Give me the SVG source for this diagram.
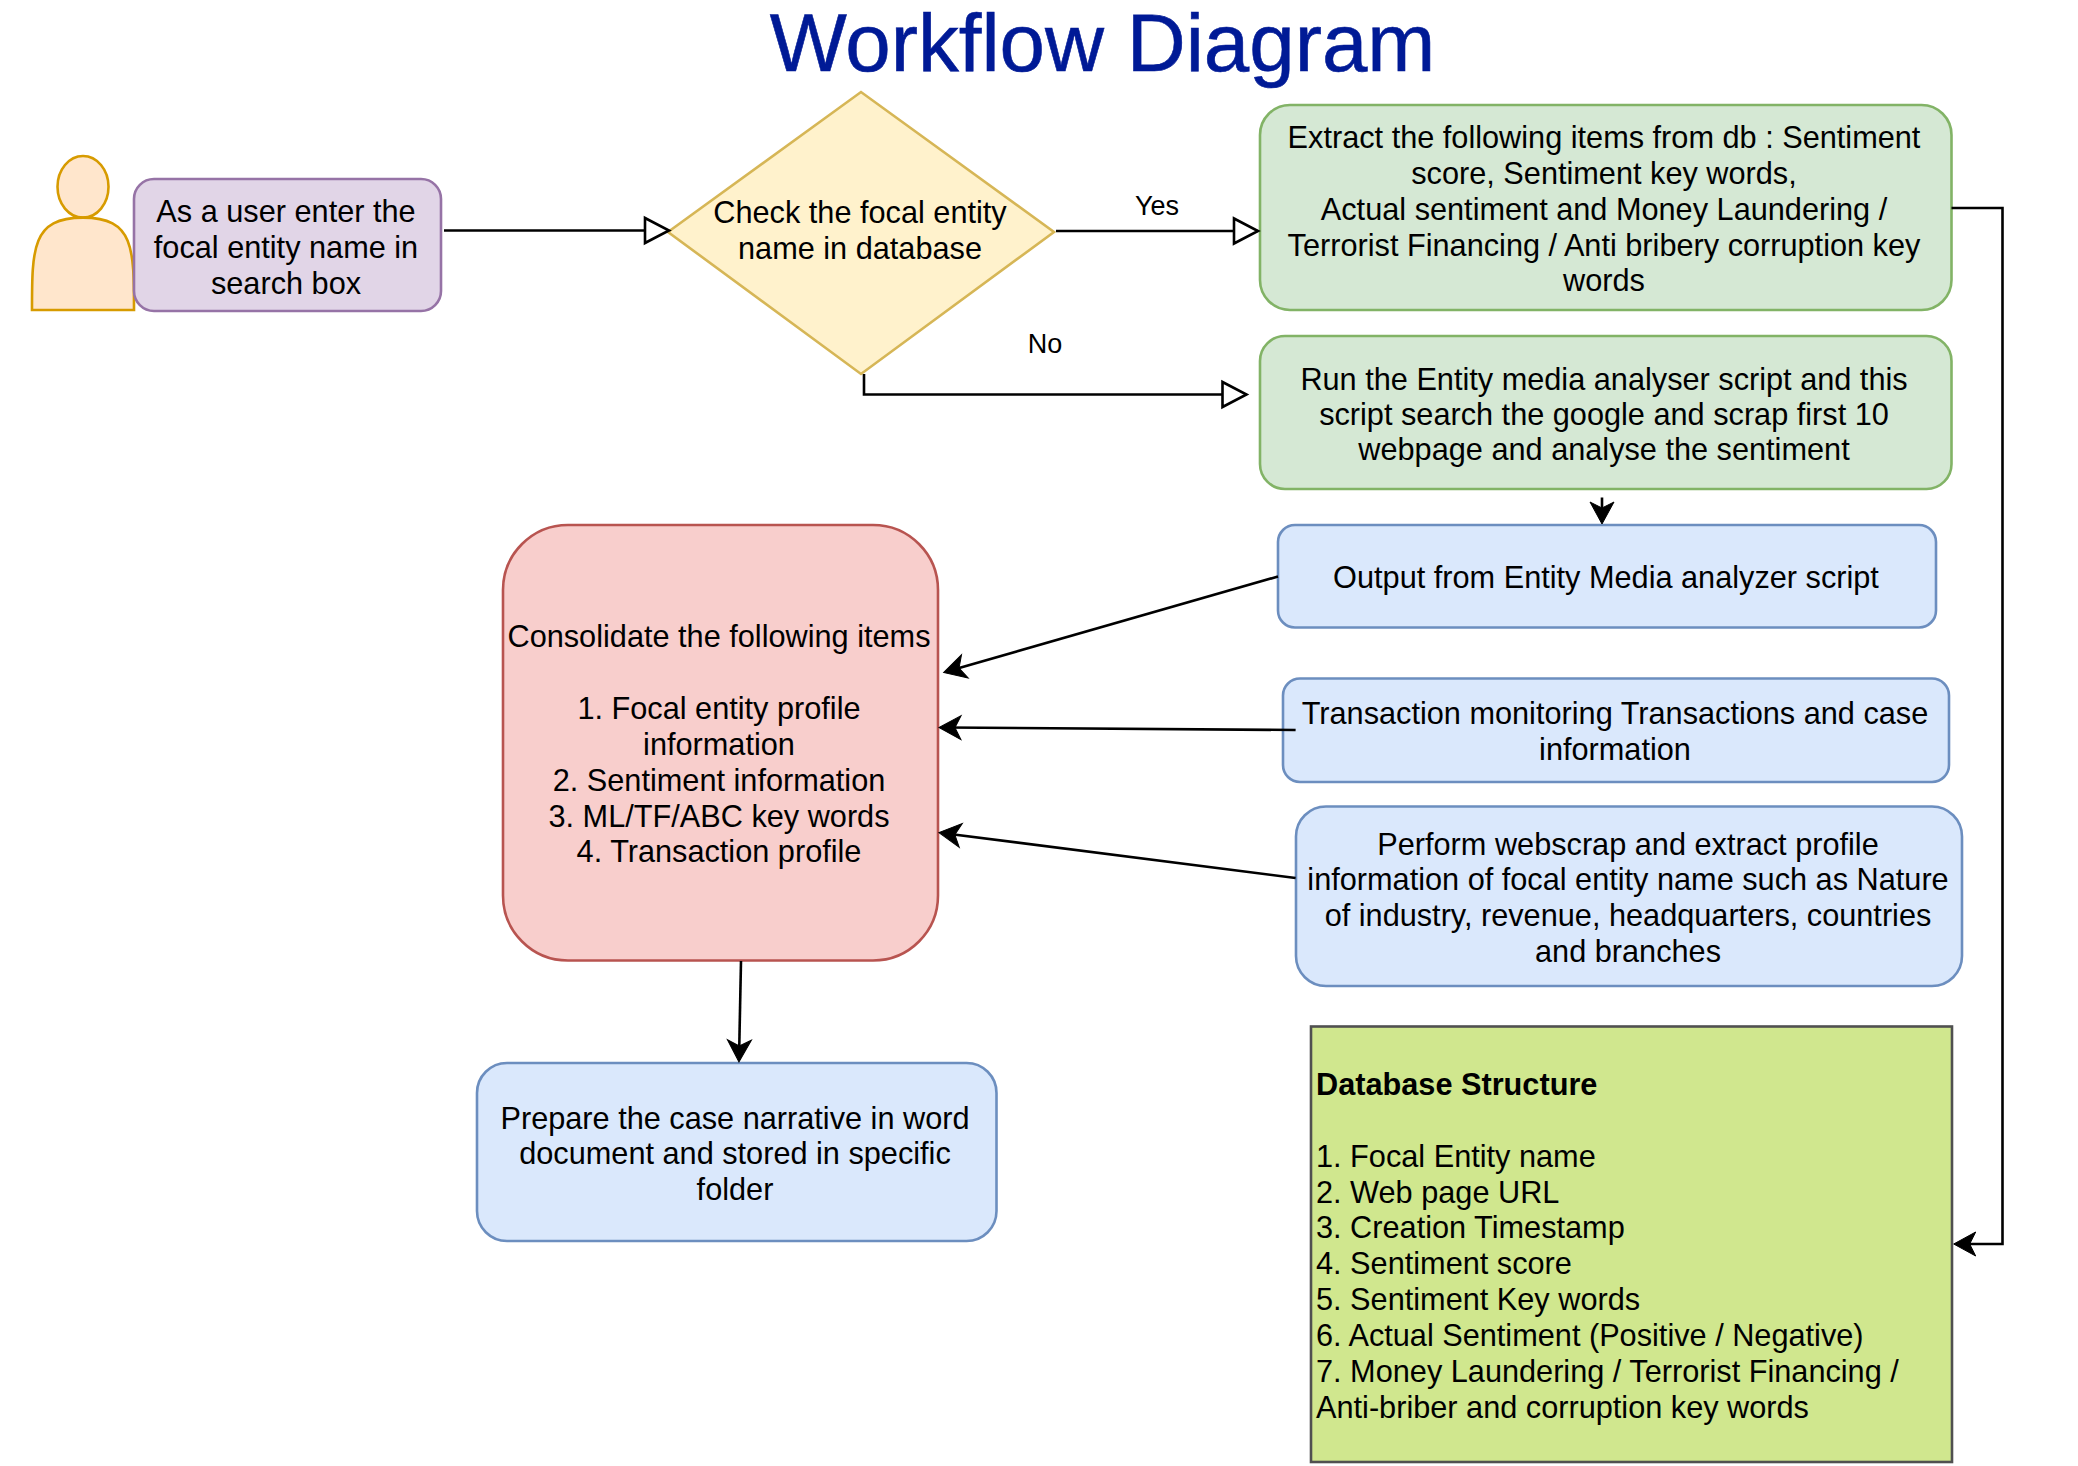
<svg xmlns="http://www.w3.org/2000/svg" width="2078" height="1466" viewBox="0 0 2078 1466">
<style>
text{font-family:"Liberation Sans",Arial,Helvetica,sans-serif;font-size:30.7px;fill:#000}
.c{text-anchor:middle}
.n{stroke-width:2.6}
.l{fill:none;stroke:#000;stroke-width:2.6}
.open{marker-end:url(#block)}
.cl{marker-end:url(#classic)}
.blue{fill:#dae8fc;stroke:#6c8ebf}
.green{fill:#d5e8d4;stroke:#82b366}
</style>
<defs>
<marker id="block" markerUnits="userSpaceOnUse" markerWidth="30" markerHeight="30" refX="25" refY="14" orient="auto" overflow="visible"><path d="M1,1.5 L25,14 L1,26.5 Z" fill="#fff" stroke="#000" stroke-width="2.6"/></marker>
<marker id="classic" markerUnits="userSpaceOnUse" markerWidth="24" markerHeight="26" refX="15" refY="12" orient="auto" overflow="visible"><path d="M0,0 L22,12 L0,24 L6,12 Z" fill="#000" stroke="#000" stroke-width="1"/></marker>
</defs>
<rect width="2078" height="1466" fill="#fff"/>
<text id="title" x="1102.5" y="71" class="c" style="font-size:81.7px;fill:#001a96" stroke="#001a96" stroke-width="0.6">Workflow Diagram</text>
<g id="actor" class="n" fill="#ffe6cc" stroke="#d79b00">
<ellipse cx="83" cy="186.8" rx="25.5" ry="30.8"/>
<path d="M32,310 C32,248.4 32,217.6 83,217.6 C134,217.6 134,248.4 134,310 Z"/>
</g>
<g id="user">
<rect class="n" x="134" y="179" width="307" height="132" rx="20" fill="#e1d5e7" stroke="#9673a6"/>
<text class="c"><tspan x="286" y="222">As a user enter the</tspan><tspan x="286" y="258">focal entity name in</tspan><tspan x="286" y="294">search box</tspan></text>
</g>
<g id="check">
<path class="n" d="M668,232 L861,92 L1054,232 L861,374 Z" fill="#fff2cc" stroke="#d6b656"/>
<text class="c"><tspan x="860" y="223">Check the focal entity</tspan><tspan x="860" y="259">name in database</tspan></text>
</g>
<g id="extract">
<rect class="n green" x="1260" y="105" width="691.5" height="205" rx="30"/>
<text class="c"><tspan x="1604" y="148">Extract the following items from db : Sentiment</tspan><tspan x="1604" y="184">score, Sentiment key words,</tspan><tspan x="1604" y="220">Actual sentiment and Money Laundering /</tspan><tspan x="1604" y="256">Terrorist Financing / Anti bribery corruption key</tspan><tspan x="1604" y="291">words</tspan></text>
</g>
<g id="run">
<rect class="n green" x="1260" y="336" width="691.5" height="153" rx="25"/>
<text class="c"><tspan x="1604" y="389.5">Run the Entity media analyser script and this</tspan><tspan x="1604" y="425">script search the google and scrap first 10</tspan><tspan x="1604" y="460">webpage and analyse the sentiment</tspan></text>
</g>
<g id="output">
<rect class="n blue" x="1278" y="525" width="658" height="102.5" rx="17"/>
<text class="c" x="1606" y="588">Output from Entity Media analyzer script</text>
</g>
<g id="transaction">
<rect class="n blue" x="1283" y="678.5" width="666" height="103.5" rx="17"/>
<text class="c"><tspan x="1615" y="724">Transaction monitoring Transactions and case</tspan><tspan x="1615" y="760">information</tspan></text>
</g>
<g id="perform">
<rect class="n blue" x="1296" y="806.5" width="666" height="179.5" rx="30"/>
<text class="c"><tspan x="1628" y="855">Perform webscrap and extract profile</tspan><tspan x="1628" y="890">information of focal entity name such as Nature</tspan><tspan x="1628" y="926">of industry, revenue, headquarters, countries</tspan><tspan x="1628" y="962">and branches</tspan></text>
</g>
<g id="consolidate">
<rect class="n" x="503" y="525" width="435" height="435.5" rx="65" fill="#f8cecc" stroke="#b85450"/>
<text class="c"><tspan x="719" y="647">Consolidate the following items</tspan><tspan x="719" y="719">1. Focal entity profile</tspan><tspan x="719" y="755">information</tspan><tspan x="719" y="791">2. Sentiment information</tspan><tspan x="719" y="827">3. ML/TF/ABC key words</tspan><tspan x="719" y="862">4. Transaction profile</tspan></text>
</g>
<g id="prepare">
<rect class="n blue" x="477" y="1063" width="519.5" height="178" rx="30"/>
<text class="c"><tspan x="735" y="1128.5">Prepare the case narrative in word</tspan><tspan x="735" y="1164">document and stored in specific</tspan><tspan x="735" y="1200">folder</tspan></text>
</g>
<g id="database">
<rect class="n" x="1311" y="1026.5" width="641" height="435.5" fill="#d0e78e" stroke="#505050"/>
<text><tspan x="1316" y="1095" font-weight="bold">Database Structure</tspan><tspan x="1316" y="1167">1. Focal Entity name</tspan><tspan x="1316" y="1203">2. Web page URL</tspan><tspan x="1316" y="1238">3. Creation Timestamp</tspan><tspan x="1316" y="1274">4. Sentiment score</tspan><tspan x="1316" y="1310">5. Sentiment Key words</tspan><tspan x="1316" y="1346">6. Actual Sentiment (Positive / Negative)</tspan><tspan x="1316" y="1382">7. Money Laundering / Terrorist Financing /</tspan><tspan x="1316" y="1418">Anti-briber and corruption key words</tspan></text>
</g>
<g id="connectors">
<path class="l open" d="M444,230.5 H669"/>
<path class="l open" d="M1056,231 H1258"/>
<path class="l open" d="M864,374 V394.5 H1246.5"/>
<path class="l cl" d="M1951.5,208 H2002.5 V1244 H1960.7"/>
<path class="l cl" d="M1602,497.5 V517"/>
<path class="l cl" d="M1278,576.5 L950.4,670.5"/>
<path class="l cl" d="M1295.6,730 L946,727.55"/>
<path class="l cl" d="M1295.6,878 L945.9,833.5"/>
<path class="l cl" d="M741,961 L739.1,1055"/>
<text x="1157" y="215" class="c" style="font-size:27px">Yes</text>
<text x="1045" y="353" class="c" style="font-size:27px">No</text>
</g>
</svg>
